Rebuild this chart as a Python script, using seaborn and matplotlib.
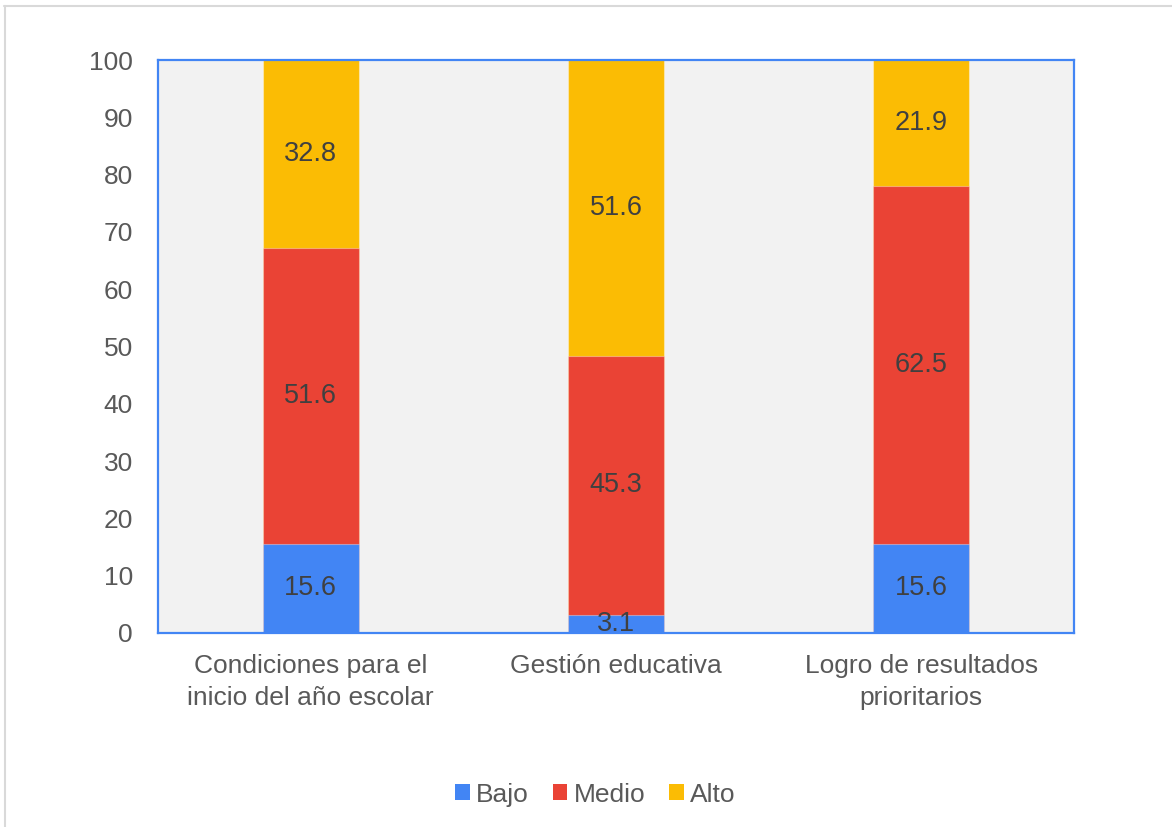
import numpy as np
import pandas as pd
import matplotlib
matplotlib.use("Agg")
import matplotlib.pyplot as plt
from matplotlib.patches import Patch
from matplotlib.lines import Line2D
import seaborn as sns

# Data
categories = ["Condiciones para el\ninicio del año escolar",
              "Gestión educativa",
              "Logro de resultados\nprioritarios"]
levels = ["Bajo", "Medio", "Alto"]
bajo = [15.6, 3.1, 15.6]
medio = [51.6, 45.3, 62.5]
alto = [32.8, 51.6, 21.9]
yticks = [0, 10, 20, 30, 40, 50, 60, 70, 80, 90, 100]

colors = {"Bajo": "#4285F4", "Medio": "#EA4335", "Alto": "#FBBC04"}

sns.set_theme(style="white")
plt.rcParams["font.family"] = ["Liberation Sans", "DejaVu Sans"]

fig = plt.figure(figsize=(11.72, 8.27), dpi=100)
ax = fig.add_axes([0.1348, 0.2346, 0.9164 - 0.1348, 0.9274 - 0.2346])
ax.set_facecolor("#F2F2F2")

series = {"Bajo": bajo, "Medio": medio, "Alto": alto}
df = pd.DataFrame({"categoria": categories, **series})
cum = df[levels].cumsum(axis=1)

# Stacked bars: draw cumulative totals from the top segment down
for lvl in reversed(levels):
    sns.barplot(x=df["categoria"], y=cum[lvl], color=colors[lvl], width=0.315,
                saturation=1, ax=ax, edgecolor=(1, 1, 1, 0.35), linewidth=0.8)

# Value labels centred in each segment
for i in range(len(categories)):
    base = 0.0
    for lvl in levels:
        v = series[lvl][i]
        ax.text(i, base + v / 2, f"{v:.1f}", ha="center", va="center",
                fontsize=19.5, color="#404040")
        base += v

ax.set_ylim(0, 100)
ax.set_xlim(-0.5, 2.5)
ax.set_yticks(yticks)
ax.set_yticklabels([str(t) for t in yticks])
ax.set_xlabel("")
ax.set_ylabel("")
ax.tick_params(axis="y", length=0, pad=18, labelsize=19, labelcolor="#595959")
ax.tick_params(axis="x", length=0, pad=15, labelsize=19, labelcolor="#595959")
for lbl in ax.get_xticklabels():
    lbl.set_linespacing(1.45)

for s in ax.spines.values():
    s.set_visible(True)
    s.set_color("#4285F4")
    s.set_linewidth(1.6)

handles = [Patch(facecolor=colors[l], edgecolor="none", label=l) for l in levels]
fig.legend(handles=handles, loc="center", bbox_to_anchor=(0.508, 0.039), ncol=3,
           frameon=False, fontsize=19, handlelength=0.55, handleheight=0.55,
           handletextpad=0.25, columnspacing=0.9, labelcolor="#595959")

# Light outer frame lines
fig.add_artist(Line2D([0.0035, 1.0], [0.9925, 0.9925], transform=fig.transFigure,
                      color="#D9D9D9", linewidth=1.5))
fig.add_artist(Line2D([0.0045, 0.0045], [0.0, 0.9925], transform=fig.transFigure,
                      color="#D9D9D9", linewidth=1.5))

fig.savefig("out.png", dpi=100, facecolor="white")
